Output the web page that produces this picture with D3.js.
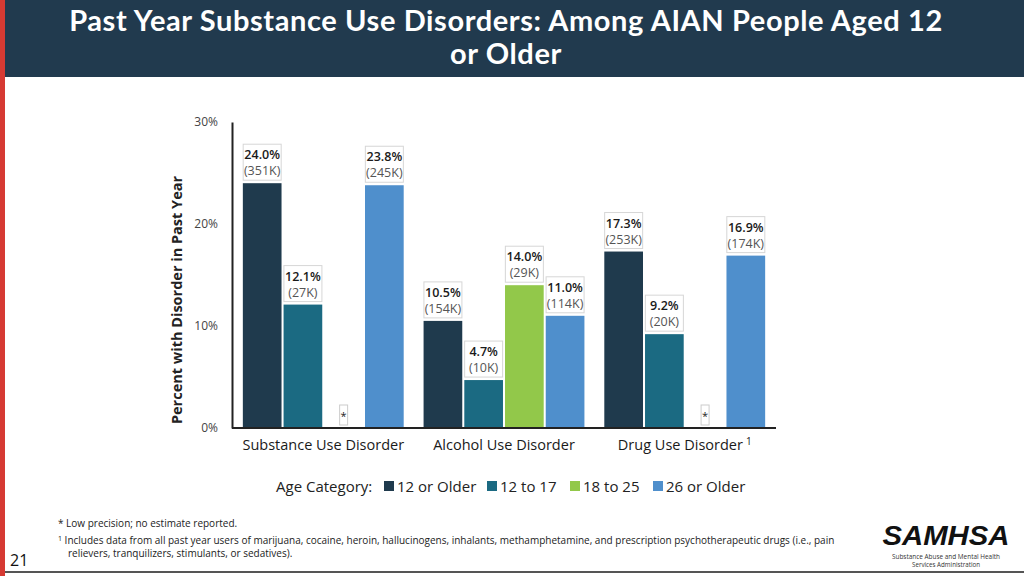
<!DOCTYPE html>
<html><head><meta charset="utf-8">
<script src="https://cdn.jsdelivr.net/npm/d3@7"></script>
<style>
html,body{margin:0;padding:0;background:#fff;}
svg{display:block;font-family:"Open Sans","Noto Sans",sans-serif;}
</style></head>
<body><svg id="c" width="1024" height="576"></svg>
<script>
const categories = ["Substance Use Disorder", "Alcohol Use Disorder", "Drug Use Disorder"];
const series = ["12 or Older", "12 to 17", "18 to 25", "26 or Older"];
const colors = ["#1f3a4d", "#1b6a82", "#92c84a", "#4f8fcc"];
const sudValues = [24.0, 12.1, null, 23.8];
const audValues = [10.5, 4.7, 14.0, 11.0];
const dudValues = [17.3, 9.2, null, 16.9];
const sudCounts = ["351K", "27K", null, "245K"];
const audCounts = ["154K", "10K", "29K", "114K"];
const dudCounts = ["253K", "20K", null, "174K"];
const yTicks = [0, 10, 20, 30];
const yTickLabels = ["0%", "10%", "20%", "30%"];

const values = [sudValues, audValues, dudValues];
const counts = [sudCounts, audCounts, dudCounts];

const svg = d3.select("#c");

// header
svg.append("rect").attr("x", 0).attr("y", 0).attr("width", 1024).attr("height", 77).attr("fill", "#213a4e");
svg.append("rect").attr("x", 0).attr("y", 0).attr("width", 5).attr("height", 576).attr("fill", "#d63a33");
svg.append("text").attr("x", 506).attr("y", 31).attr("fill", "#fff").attr("font-size", 29).attr("font-weight", 700)
  .attr("letter-spacing", 0.6).attr("font-family", "Lato").attr("text-anchor", "middle")
  .text("Past Year Substance Use Disorders: Among AIAN People Aged 12");
svg.append("text").attr("x", 506).attr("y", 64).attr("fill", "#fff").attr("font-size", 29).attr("font-weight", 700)
  .attr("letter-spacing", 0.6).attr("font-family", "Lato").attr("text-anchor", "middle").text("or Older");

// chart
const x0 = d3.scaleBand().domain(categories).range([232, 776]).paddingInner(0.11).paddingOuter(0.06);
const x1 = d3.scaleBand().domain(series).range([0, x0.bandwidth()]).paddingInner(0.05);
const y = d3.scaleLinear().domain([0, 30]).range([428, 122]);

const g = svg.append("g");
categories.forEach((cat, ci) => {
  series.forEach((s, si) => {
    const v = values[ci][si];
    const bx = x0(cat) + x1(s);
    const bw = x1.bandwidth();
    if (v == null) {
      const cx = bx + bw / 2;
      g.append("rect").attr("x", cx - 4).attr("y", 405).attr("width", 8).attr("height", 20)
        .attr("fill", "#fff").attr("stroke", "#ccc").attr("stroke-width", 1);
      g.append("text").attr("x", cx).attr("y", 420).attr("text-anchor", "middle").attr("font-size", 11).attr("fill", "#222").text("*");
      return;
    }
    g.append("rect").attr("x", bx).attr("y", y(v)).attr("width", bw).attr("height", y(0) - y(v)).attr("fill", colors[si]);
    const cx = bx + bw / 2;
    const top = y(v);
    g.append("rect").attr("x", cx - 19).attr("y", top - 39).attr("width", 38).attr("height", 36)
      .attr("fill", "#fff").attr("stroke", "#d6d6d6").attr("stroke-width", 1);
    g.append("text").attr("x", cx).attr("y", top - 24).attr("text-anchor", "middle").attr("font-size", 12.5)
      .attr("font-weight", 600).attr("fill", "#1a1a1a").text(v.toFixed(1) + "%");
    g.append("text").attr("x", cx).attr("y", top - 8).attr("text-anchor", "middle").attr("font-size", 12.5)
      .attr("fill", "#555").text("(" + counts[ci][si] + ")");
  });
});

// axes
const yAxis = d3.axisLeft(y).tickValues(yTicks).tickFormat((d, i) => yTickLabels[i]).tickSize(0).tickPadding(14);
const ya = svg.append("g").attr("transform", "translate(232,0)").call(yAxis);
ya.select(".domain").attr("stroke", "#222").attr("stroke-width", 2);
ya.selectAll("text").attr("font-size", 12).attr("fill", "#444").attr("font-family", "Open Sans");

const xAxis = d3.axisBottom(x0).tickSize(0).tickPadding(12);
const xa = svg.append("g").attr("transform", "translate(0,428)").call(xAxis);
xa.select(".domain").attr("stroke", "#222").attr("stroke-width", 2).attr("d", "M232,0H776");
xa.selectAll("text").attr("font-size", 14.5).attr("fill", "#1a1a1a").attr("font-family", "Open Sans").attr("font-weight", 500);
xa.selectAll(".tick text").filter(d => d === "Drug Use Disorder").each(function () {
  d3.select(this).append("tspan").attr("dx", 3).attr("dy", -5).attr("font-size", 10).text("1");
});

svg.append("text").attr("transform", "translate(182,300) rotate(-90)").attr("text-anchor", "middle")
  .attr("font-size", 14.5).attr("font-weight", 700).attr("fill", "#222").text("Percent with Disorder in Past Year");

// legend
const lg = svg.append("g").attr("font-size", 15).attr("fill", "#222");
lg.append("text").attr("x", 276).attr("y", 492).text("Age Category:");
const legX = [384, 487, 570, 653];
series.forEach((s, i) => {
  lg.append("rect").attr("x", legX[i]).attr("y", 481).attr("width", 10).attr("height", 10).attr("fill", colors[i]);
  lg.append("text").attr("x", legX[i] + 13).attr("y", 492).text(s);
});

// footnotes
const fn = svg.append("g").attr("font-size", 10).attr("fill", "#222");
fn.append("text").attr("x", 58).attr("y", 527).text("* Low precision; no estimate reported.");
const f2 = fn.append("text").attr("x", 58).attr("y", 544);
f2.append("tspan").attr("font-size", 7).attr("dy", -3).text("1");
f2.append("tspan").attr("dy", 3).text(" Includes data from all past year users of marijuana, cocaine, heroin, hallucinogens, inhalants, methamphetamine, and prescription psychotherapeutic drugs (i.e., pain");
fn.append("text").attr("x", 68).attr("y", 557).text("relievers, tranquilizers, stimulants, or sedatives).");
svg.append("text").attr("x", 10).attr("y", 566).attr("font-size", 16).attr("fill", "#111").text("21");

// logo
svg.append("text").attr("x", 946).attr("y", 545).attr("text-anchor", "middle").attr("font-size", 27)
  .attr("font-weight", 900).attr("font-style", "italic").attr("fill", "#111").attr("font-family", "Liberation Sans")
  .attr("textLength", 127).attr("lengthAdjust", "spacingAndGlyphs").text("SAMHSA");
svg.append("text").attr("x", 946).attr("y", 559).attr("text-anchor", "middle").attr("font-size", 7).attr("fill", "#333")
  .attr("textLength", 108).attr("lengthAdjust", "spacingAndGlyphs").text("Substance Abuse and Mental Health");
svg.append("text").attr("x", 946).attr("y", 567).attr("text-anchor", "middle").attr("font-size", 7).attr("fill", "#333")
  .attr("textLength", 68).attr("lengthAdjust", "spacingAndGlyphs").text("Services Administration");

svg.append("line").attr("x1", 5).attr("x2", 1024).attr("y1", 572).attr("y2", 572).attr("stroke", "#555").attr("stroke-width", 2);
</script></body></html>
